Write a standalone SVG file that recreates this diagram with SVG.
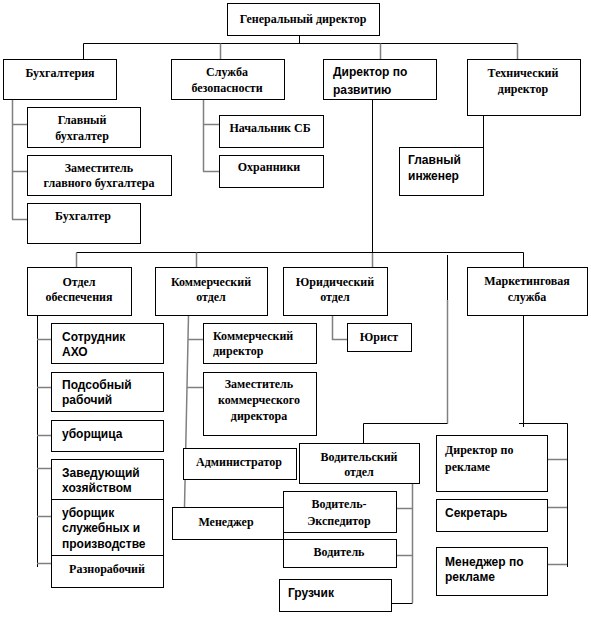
<svg xmlns="http://www.w3.org/2000/svg" width="591" height="636" viewBox="0 0 591 636">
<style>
rect{fill:#fff;stroke:#000;stroke-width:1}
text{font-weight:bold;fill:#000}
.s{font-family:'Liberation Serif','Times New Roman',serif;font-size:12px;text-anchor:middle}
.sl{font-family:'Liberation Serif','Times New Roman',serif;font-size:12px}
.a{font-family:'Liberation Sans',Arial,sans-serif;font-size:12px}
.k{fill:none;stroke:#000;stroke-width:1}
.g{fill:none;stroke:#808080;stroke-width:1.5}
</style>
<rect x="0" y="0" width="591" height="636" style="stroke:none"/>
<g id="connectors">
<path class="k" d="M299.5 35V43.5M83.5 43.5H517.5M83.5 43.5V59"/>
<path class="g" d="M220.5 43.5V59M380.5 43.5V59M517.5 43.5V59"/>
<path class="g" d="M12.5 99V219.5M12 124.5H27M12 171.5H27M12 219.5H27"/>
<path class="g" d="M203.5 99V171.5M203 124.5H219M203 171.5H219"/>
<path class="k" d="M372.5 99V252"/>
<path class="g" d="M372.5 252V267"/>
<path class="k" d="M480 111.5H483.5V147"/>
<path class="k" d="M76.5 252.5H523.5M523.5 252.5V267"/>
<path class="g" d="M76.5 252.5V267M196.5 252.5V267"/>
<path class="k" d="M447.5 255V300"/>
<path class="g" d="M447.5 300V423.5"/>
<path class="k" d="M447.5 423.5H363.5V443"/>
<path class="g" d="M332.5 315V339.5H347"/>
<path class="k" d="M523.5 315V427M519 423.5H567.5V567"/>
<path class="g" d="M567 459.5H547M567 507.5H547M567 564.5H547"/>
<path class="k" d="M37.5 315V567"/>
<path class="g" d="M37 339.5H51M37 387.5H51M37 435.5H51M37 468.5H51M37 516.5H51M37 563.5H51"/>
<path class="g" d="M188.5 315L184.5 507M188 339.5H203M187 387.5H203"/>
<path class="g" d="M412.5 483V603M412 508.5H396M412 555.5H396"/>
<path class="k" d="M412.5 603.5H391"/>
</g>
<g id="gen"><rect x="227.5" y="3.5" width="152" height="32"/><text class="s" x="303" y="23">Генеральный директор</text></g>
<g id="buh"><rect x="3.5" y="59.5" width="113" height="40"/><text class="s" x="60" y="77">Бухгалтерия</text></g>
<g id="sb"><rect x="171.5" y="59.5" width="113" height="40"/><text class="s" x="227" y="76">Служба</text><text class="s" x="227" y="92">безопасности</text></g>
<g id="dir-razv"><rect x="323.5" y="59.5" width="113" height="40"/><text class="a" x="333" y="76">Директор  по</text><text class="a" x="333" y="94">развитию</text></g>
<g id="tech"><rect x="467.5" y="59.5" width="113" height="56"/><text class="s" x="523" y="77">Технический</text><text class="s" x="523" y="93">директор</text></g>
<g id="gl-buh"><rect x="27.5" y="107.5" width="113" height="40"/><text class="s" x="82" y="124">Главный</text><text class="s" x="82" y="140">бухгалтер</text></g>
<g id="zam-buh"><rect x="27.5" y="155.5" width="144" height="40"/><text class="s" x="99" y="172">Заместитель</text><text class="s" x="99" y="187">главного  бухгалтера</text></g>
<g id="buhgalter"><rect x="27.5" y="203.5" width="113" height="40"/><text class="s" x="83" y="220">Бухгалтер</text></g>
<g id="nach-sb"><rect x="219.5" y="115.5" width="104" height="32"/><text class="s" x="270" y="132">Начальник СБ</text></g>
<g id="ohrana"><rect x="219.5" y="155.5" width="104" height="32"/><text class="s" x="269" y="171">Охранники</text></g>
<g id="gl-ing"><rect x="399.5" y="147.5" width="84" height="48"/><text class="a" x="408" y="164">Главный</text><text class="a" x="408" y="180">инженер</text></g>
<g id="otd-obesp"><rect x="27.5" y="267.5" width="104" height="48"/><text class="s" x="79" y="286">Отдел</text><text class="s" x="79" y="301">обеспечения</text></g>
<g id="komm-otd"><rect x="155.5" y="267.5" width="112" height="48"/><text class="s" x="211" y="286">Коммерческий</text><text class="s" x="211" y="301">отдел</text></g>
<g id="yur-otd"><rect x="283.5" y="267.5" width="104" height="48"/><text class="s" x="335" y="286">Юридический</text><text class="s" x="335" y="301">отдел</text></g>
<g id="market"><rect x="467.5" y="267.5" width="120" height="48"/><text class="s" x="527" y="285">Маркетинговая</text><text class="s" x="527" y="301">служба</text></g>
<g id="yurist"><rect x="347.5" y="323.5" width="64" height="28"/><text class="s" x="379" y="341">Юрист</text></g>
<g id="aho"><rect x="51.5" y="323.5" width="112" height="40"/><text class="a" x="62" y="341">Сотрудник</text><text class="a" x="62" y="356">АХО</text></g>
<g id="podsob"><rect x="51.5" y="372.5" width="112" height="39"/><text class="a" x="62" y="389">Подсобный</text><text class="a" x="62" y="404">рабочий</text></g>
<g id="uborsch"><rect x="51.5" y="420.5" width="112" height="31"/><text class="a" x="62" y="438">уборщица</text></g>
<g id="zaved"><rect x="51.5" y="459.5" width="112" height="40"/><text class="a" x="62" y="477">Заведующий</text><text class="a" x="62" y="492">хозяйством</text></g>
<g id="uborschik"><rect x="51.5" y="499.5" width="112" height="56"/><text class="a" x="62" y="517">уборщик</text><text class="a" x="62" y="532">служебных  и</text><text class="a" x="62" y="548">производстве</text></g>
<g id="razno"><rect x="51.5" y="555.5" width="112" height="32"/><text class="s" x="107" y="573">Разнорабочий</text></g>
<g id="komm-dir"><rect x="203.5" y="323.5" width="113" height="40"/><text class="sl" x="213" y="340">Коммерческий</text><text class="sl" x="213" y="355">директор</text></g>
<g id="zam-komm"><rect x="203.5" y="372.5" width="113" height="63"/><text class="s" x="259" y="388">Заместитель</text><text class="s" x="259" y="404">коммерческого</text><text class="s" x="259" y="420">директора</text></g>
<g id="admin"><rect x="183.5" y="448.5" width="113" height="31"/><text class="s" x="239" y="466">Администратор</text></g>
<g id="vod-otd"><rect x="299.5" y="443.5" width="120" height="40"/><text class="s" x="359" y="461">Водительский</text><text class="s" x="359" y="476">отдел</text></g>
<g id="menedzher"><rect x="172.5" y="507.5" width="111" height="32"/><text class="s" x="226" y="526">Менеджер</text></g>
<g id="vod-eksp"><rect x="283.5" y="491.5" width="113" height="41"/><text class="s" x="339" y="508">Водитель-</text><text class="s" x="339" y="525">Экспедитор</text></g>
<g id="voditel"><rect x="283.5" y="539.5" width="113" height="28"/><text class="s" x="339" y="556">Водитель</text></g>
<g id="gruzchik"><rect x="279.5" y="579.5" width="112" height="32"/><text class="a" x="288" y="597">Грузчик</text></g>
<g id="dir-rekl"><rect x="436.5" y="435.5" width="111" height="56"/><text class="sl" x="445" y="454">Директор по</text><text class="sl" x="445" y="471">рекламе</text></g>
<g id="sekr"><rect x="436.5" y="499.5" width="111" height="32"/><text class="a" x="445" y="517">Секретарь</text></g>
<g id="men-rekl"><rect x="436.5" y="547.5" width="111" height="48"/><text class="a" x="445" y="566">Менеджер  по</text><text class="a" x="445" y="581">рекламе</text></g>
</svg>
